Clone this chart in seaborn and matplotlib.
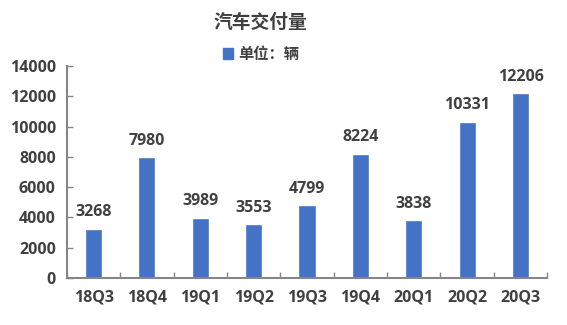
import matplotlib
matplotlib.use("Agg")
import matplotlib.pyplot as plt
import seaborn as sns
import pandas as pd
from matplotlib.patches import Patch

categories = ["18Q3", "18Q4", "19Q1", "19Q2", "19Q3", "19Q4", "20Q1", "20Q2", "20Q3"]
values = [3268, 7980, 3989, 3553, 4799, 8224, 3838, 10331, 12206]
yticks = [0, 2000, 4000, 6000, 8000, 10000, 12000, 14000]

sns.set_theme(style="white")
plt.rcParams['font.family'] = ['Open Sans', 'Noto Sans CJK SC', 'DejaVu Sans']

df = pd.DataFrame({"q": categories, "v": values})
bar_color = "#4472C4"
text_color = "#404040"
axis_color = "#868686"
tick_size = 11.5
val_size = 11.5

fig = plt.figure(figsize=(5.67, 3.25), dpi=100)
ax = fig.add_axes([0.118, 0.1446, 0.847, 0.652])
sns.barplot(data=df, x="q", y="v", color=bar_color, width=0.32, saturation=1, ax=ax)

ax.set_xlim(-0.5, len(categories) - 0.5)
ax.set_ylim(0, 14000)
ax.set_yticks(yticks)
ax.set_yticklabels([str(t) for t in yticks], fontsize=tick_size, fontweight='bold', color=text_color)
ax.set_xticks(range(len(categories)))
ax.set_xticklabels(categories, fontsize=tick_size, fontweight='bold', color=text_color)
ax.set_xlabel("")
ax.set_ylabel("")

# x ticks at category boundaries
ax.set_xticks([i - 0.5 for i in range(len(categories) + 1)], minor=True)
ax.tick_params(axis='x', which='major', bottom=True, length=0, pad=8)
ax.tick_params(axis='x', which='minor', bottom=True, length=4, width=1, color=axis_color, direction='in')
ax.tick_params(axis='y', which='major', left=True, length=4, width=1, color=axis_color, direction='in', pad=8)

for s in ["top", "right"]:
    ax.spines[s].set_visible(False)
for s in ["left", "bottom"]:
    ax.spines[s].set_color(axis_color)
    ax.spines[s].set_linewidth(1.5)

for i, v in enumerate(values):
    ax.text(i, v + 550, str(v), ha='center', va='bottom', fontsize=val_size,
            fontweight='bold', color=text_color)

fig.text(0.46, 0.932, "汽车交付量", ha='center', va='center', fontsize=13.5,
         fontweight='bold', color=text_color, family=['Noto Sans CJK SC', 'DejaVu Sans'])
fig.legend(handles=[Patch(color=bar_color, label="单位：辆")], loc='center',
           bbox_to_anchor=(0.46, 0.835), frameon=False, handlelength=0.7, handleheight=0.7,
           handletextpad=0.3,
           prop={'size': 11, 'weight': 'bold', 'family': ['Noto Sans CJK SC', 'DejaVu Sans']},
           labelcolor=text_color)

fig.savefig("out.png", dpi=100)
